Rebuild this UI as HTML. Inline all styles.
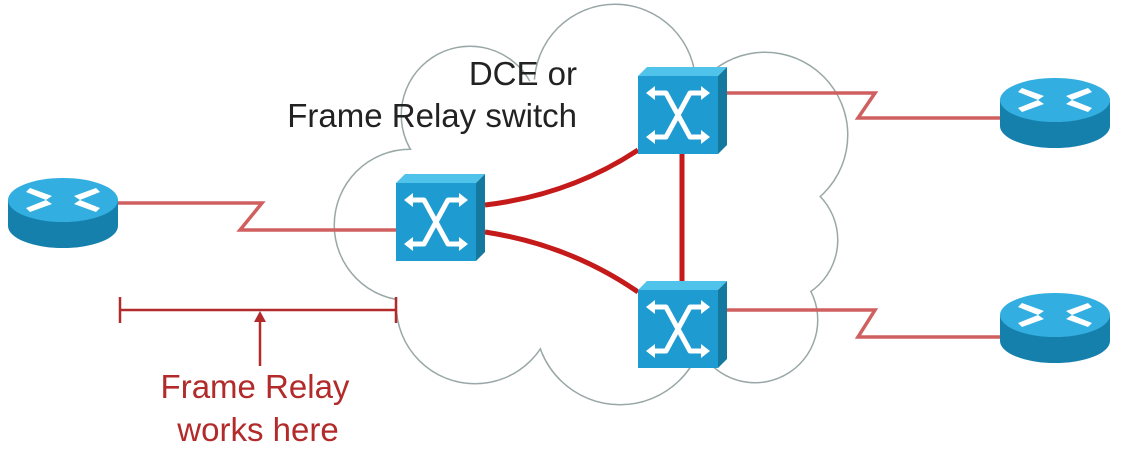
<!DOCTYPE html>
<html><head><meta charset="utf-8"><style>
html,body{margin:0;padding:0;background:#fff;}
svg{display:block;}
text{font-family:"Liberation Sans",Arial,sans-serif;}
</style></head><body>
<svg width="1123" height="450" viewBox="0 0 1123 450" xmlns="http://www.w3.org/2000/svg">
<defs>
  <g id="sw">
    <polygon points="0,9 9,0 89,0 80,9" fill="#4fc3ea"/>
    <polygon points="80,9 89,0 89,78 80,87" fill="#15799f"/>
    <rect x="0" y="9" width="80" height="78" fill="#1e9bd0"/>
    <g fill="none" stroke="#fff" stroke-width="5" stroke-linejoin="round">
      <path d="M14,26 H28 L52,70 H66"/>
      <path d="M14,70 H28 L52,26 H66"/>
    </g>
    <g fill="#fff">
      <polygon points="8,26 17,19 17,33"/><polygon points="72,26 63,19 63,33"/>
      <polygon points="8,70 17,63 17,77"/><polygon points="72,70 63,63 63,77"/>
    </g>
  </g>
  <g id="rt">
    <path d="M0,22 V48 A55,22 0 0 0 110,48 V22 Z" fill="#1680ad"/>
    <ellipse cx="55" cy="22" rx="55" ry="22" fill="#32aee0"/>
    <g fill="#fff">
      <polygon points="22,10 44,18 38,22 18,14"/>
      <polygon points="88,10 66,18 72,22 92,14" />
      <polygon points="22,34 44,26 38,22 18,30"/>
      <polygon points="88,34 66,26 72,22 92,30"/>
    </g>
  </g>
</defs>

<g fill="none" stroke="#9aa7a7" stroke-width="3">
  <circle cx="615" cy="85" r="80"/>
  <circle cx="470" cy="115" r="68"/>
  <circle cx="765" cy="135" r="82"/>
  <circle cx="775" cy="240" r="62"/>
  <circle cx="755" cy="320" r="62"/>
  <circle cx="620" cy="320" r="84"/>
  <circle cx="475" cy="305" r="78"/>
  <circle cx="410" cy="225" r="75"/>
</g>
<g fill="#fff">
  <circle cx="615" cy="85" r="80"/>
  <circle cx="470" cy="115" r="68"/>
  <circle cx="765" cy="135" r="82"/>
  <circle cx="775" cy="240" r="62"/>
  <circle cx="755" cy="320" r="62"/>
  <circle cx="620" cy="320" r="84"/>
  <circle cx="475" cy="305" r="78"/>
  <circle cx="410" cy="225" r="75"/>
  <ellipse cx="600" cy="210" rx="180" ry="140"/>
</g>

<g fill="none" stroke="#d06060" stroke-width="3.5">
  <polyline points="118,203 262,203 240,230 396,230"/>
  <polyline points="716,93 875,93 858,118 1000,118"/>
  <polyline points="716,310 875,310 858,337 1000,337"/>
</g>
<g fill="none" stroke="#c41a1a" stroke-width="5">
  <path d="M485,205 Q570,195 638,150"/>
  <path d="M485,232 Q570,245 638,292"/>
  <line x1="682" y1="152" x2="682" y2="283"/>
</g>

<use href="#sw" x="396" y="174"/>
<use href="#sw" x="638" y="67"/>
<use href="#sw" x="638" y="281"/>

<use href="#rt" x="8" y="178"/>
<use href="#rt" x="1000" y="78"/>
<use href="#rt" x="1000" y="293"/>

<g stroke="#b22a2a" stroke-width="2.5" fill="none">
  <line x1="120" y1="310" x2="396" y2="310"/>
  <line x1="120" y1="297" x2="120" y2="323"/>
  <line x1="396" y1="297" x2="396" y2="323"/>
  <line x1="260" y1="366" x2="260" y2="318"/>
</g>
<polygon points="260,311 254,322 266,322" fill="#b22a2a"/>

<text x="577" y="85" font-size="33" fill="#222" text-anchor="end">DCE or</text>
<text x="577" y="127" font-size="33" fill="#222" text-anchor="end">Frame Relay switch</text>
<text x="255" y="398" font-size="33" fill="#b22a2a" text-anchor="middle">Frame Relay</text>
<text x="258" y="441" font-size="33" fill="#b22a2a" text-anchor="middle">works here</text>
</svg>
</body></html>
